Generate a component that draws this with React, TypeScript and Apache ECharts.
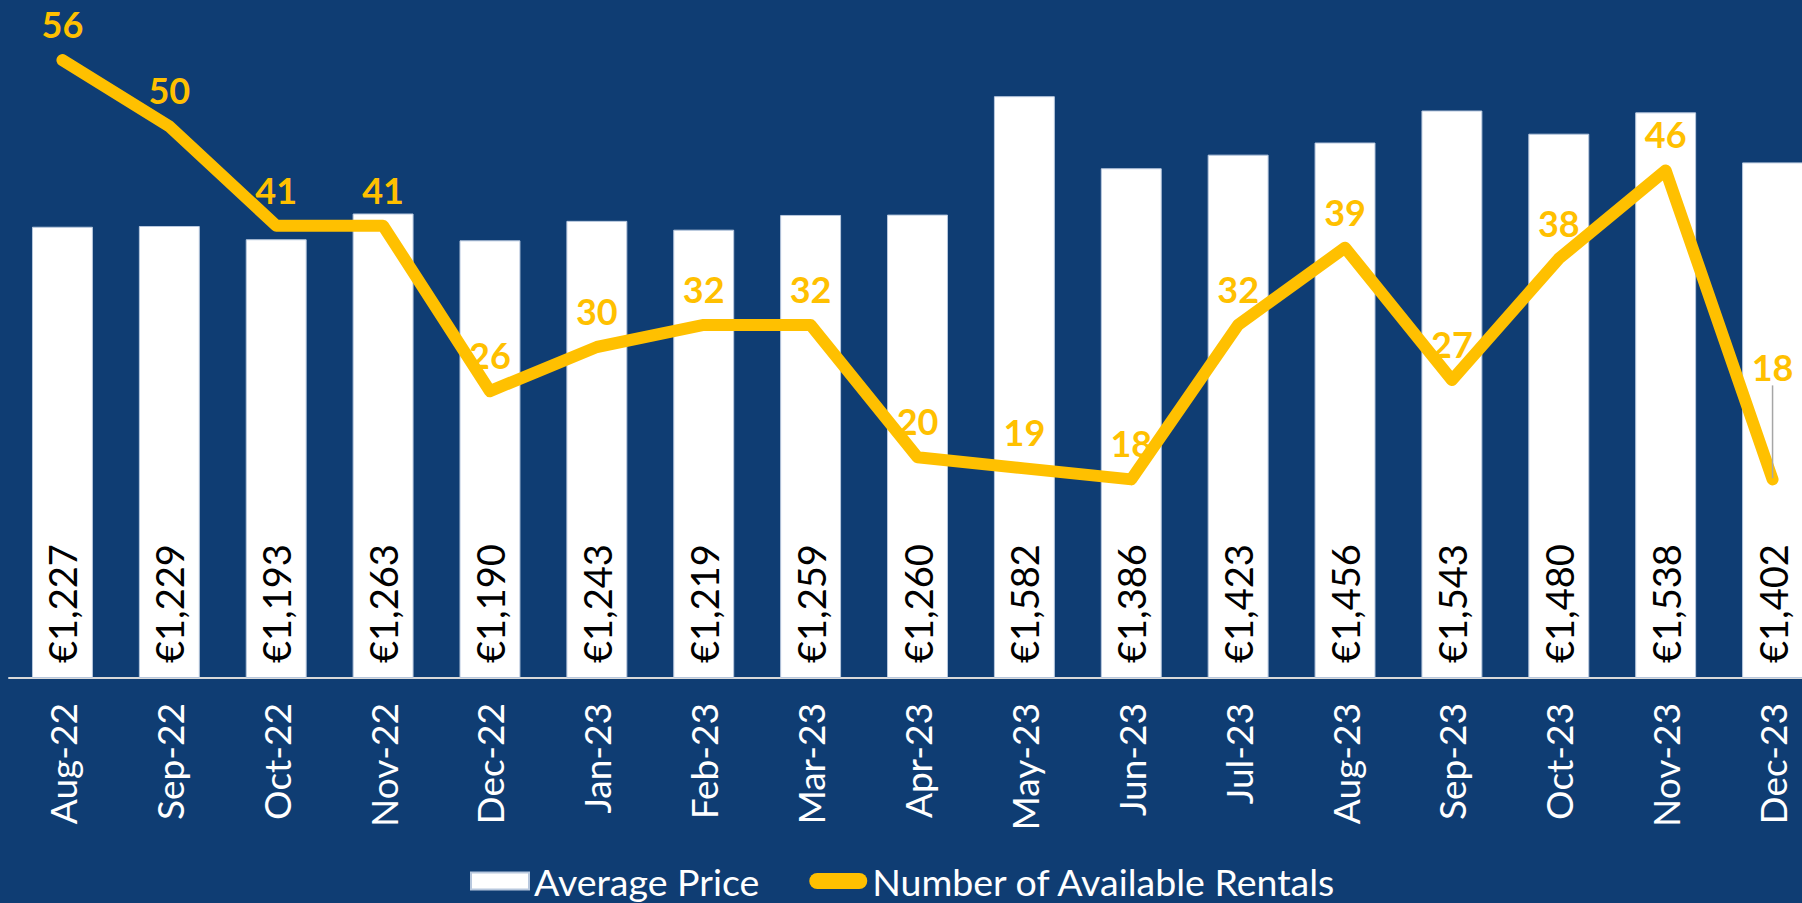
import React, { useEffect, useRef } from "react";
import * as echarts from "echarts";

const months = ["Aug-22", "Sep-22", "Oct-22", "Nov-22", "Dec-22", "Jan-23", "Feb-23", "Mar-23", "Apr-23", "May-23", "Jun-23", "Jul-23", "Aug-23", "Sep-23", "Oct-23", "Nov-23", "Dec-23"];
const avgPrice = [1227, 1229, 1193, 1263, 1190, 1243, 1219, 1259, 1260, 1582, 1386, 1423, 1456, 1543, 1480, 1538, 1402];
const rentals = [56, 50, 41, 41, 26, 30, 32, 32, 20, 19, 18, 32, 39, 27, 38, 46, 18];

const BG = "#0F3D73";
const GOLD = "#FFC000";
const FONT = "Lato";
const CHART_W = 1826;

export default function App() {
  const ref = useRef<HTMLDivElement>(null);
  useEffect(() => {
    document.body.style.margin = "0";
    document.body.style.overflow = "hidden";
    const chart = echarts.init(ref.current!, undefined, { renderer: "svg" });
    const lastIdx = rentals.length - 1;
    chart.setOption({
      animation: false,
      backgroundColor: BG,
      textStyle: { fontFamily: FONT },
      grid: { left: 9, right: 0, top: 16, bottom: 225, containLabel: false },
      legend: {
        top: 857,
        left: 465,
        itemWidth: 58,
        itemHeight: 17,
        itemGap: 50,
        textStyle: { color: "#ffffff", fontSize: 37.5, fontFamily: FONT },
        data: [
          { name: "Average Price", icon: "rect", itemStyle: { color: "#ffffff" } },
          {
            name: "Number of Available Rentals",
            icon: "path://M8,0L50,0A8,8,0,0,1,50,16L8,16A8,8,0,0,1,8,0Z",
            itemStyle: { color: GOLD },
          },
        ],
      },
      xAxis: {
        type: "category",
        data: months,
        axisLine: { show: true, lineStyle: { color: "#d9d9d9", width: 2 } },
        axisTick: { show: false },
        axisLabel: {
          rotate: 90,
          color: "#ffffff",
          fontSize: 37,
          fontFamily: FONT,
          margin: 25,
          interval: 0,
        },
      },
      yAxis: [
        { type: "value", min: 0, max: 1800, show: false, splitLine: { show: false } },
        { type: "value", min: 0, max: 60, show: false, splitLine: { show: false } },
      ],
      series: [
        {
          name: "Average Price",
          type: "bar",
          yAxisIndex: 0,
          data: avgPrice,
          barCategoryGap: "43%",
          itemStyle: { color: "#ffffff", borderColor: "#b8c8de", borderWidth: 1 },
          label: {
            show: true,
            position: "insideBottom",
            rotate: 90,
            align: "left",
            verticalAlign: "middle",
            distance: 15,
            color: "#000000",
            fontSize: 38,
            fontFamily: FONT,
            formatter: (p: any) => "€" + Number(p.value).toLocaleString("en-US"),
          },
          z: 2,
        },
        {
          name: "Number of Available Rentals",
          type: "line",
          yAxisIndex: 1,
          data: rentals.map((v, i) =>
            i === lastIdx
              ? { value: v, labelLine: { show: true, lineStyle: { color: "#a6a6a6", width: 1.5 } } }
              : v
          ),
          showSymbol: true,
          symbol: "circle",
          symbolSize: 2,
          lineStyle: { color: GOLD, width: 12, cap: "round", join: "round" },
          itemStyle: { color: GOLD },
          label: {
            show: true,
            position: "top",
            distance: 17,
            color: GOLD,
            fontSize: 36,
            fontWeight: "bold",
            fontFamily: FONT,
          },
          labelLayout: (p: any) => (p.dataIndex === lastIdx ? { dy: -76 } : {}),
          z: 5,
        },
      ],
    });
    return () => chart.dispose();
  }, []);
  return <div ref={ref} style={{ position: "fixed", left: 0, top: 0, width: CHART_W, height: 903 }} />;
}
